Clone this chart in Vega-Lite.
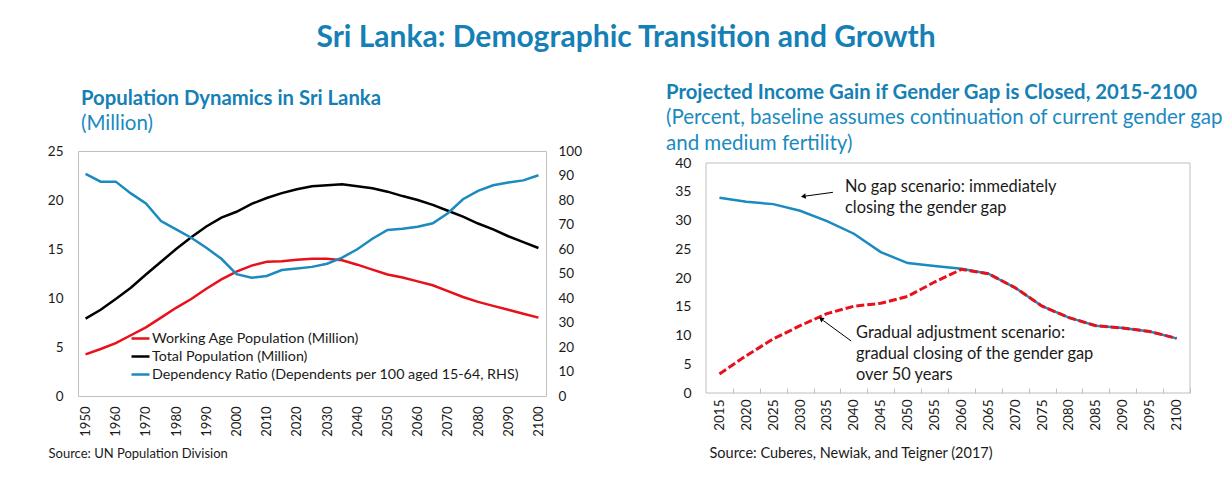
{
  "$schema": "https://vega.github.io/schema/vega-lite/v6.json",
  "padding": {"left": 46, "top": 23, "right": 2, "bottom": 2},
  "background": "white",
  "title": {
    "text": "Sri Lanka: Demographic Transition and Growth",
    "font": "Lato", "fontSize": 30, "fontWeight": "bold", "color": "#1580b5",
    "anchor": "middle", "offset": 30, "dx": -9
  },
  "spacing": 84,
  "datasets": {
    "pop": [
      {"year": 1950, "series": "Working Age Population (Million)", "value": 4.25},
      {"year": 1955, "series": "Working Age Population (Million)", "value": 4.8},
      {"year": 1960, "series": "Working Age Population (Million)", "value": 5.4},
      {"year": 1965, "series": "Working Age Population (Million)", "value": 6.2},
      {"year": 1970, "series": "Working Age Population (Million)", "value": 7.0},
      {"year": 1975, "series": "Working Age Population (Million)", "value": 8.0},
      {"year": 1980, "series": "Working Age Population (Million)", "value": 9.0},
      {"year": 1985, "series": "Working Age Population (Million)", "value": 9.9},
      {"year": 1990, "series": "Working Age Population (Million)", "value": 10.95},
      {"year": 1995, "series": "Working Age Population (Million)", "value": 11.9},
      {"year": 2000, "series": "Working Age Population (Million)", "value": 12.7},
      {"year": 2005, "series": "Working Age Population (Million)", "value": 13.3},
      {"year": 2010, "series": "Working Age Population (Million)", "value": 13.7},
      {"year": 2015, "series": "Working Age Population (Million)", "value": 13.75},
      {"year": 2020, "series": "Working Age Population (Million)", "value": 13.9},
      {"year": 2025, "series": "Working Age Population (Million)", "value": 14.0},
      {"year": 2030, "series": "Working Age Population (Million)", "value": 14.0},
      {"year": 2035, "series": "Working Age Population (Million)", "value": 13.85},
      {"year": 2040, "series": "Working Age Population (Million)", "value": 13.4},
      {"year": 2045, "series": "Working Age Population (Million)", "value": 12.9},
      {"year": 2050, "series": "Working Age Population (Million)", "value": 12.4},
      {"year": 2055, "series": "Working Age Population (Million)", "value": 12.1},
      {"year": 2060, "series": "Working Age Population (Million)", "value": 11.7},
      {"year": 2065, "series": "Working Age Population (Million)", "value": 11.3},
      {"year": 2070, "series": "Working Age Population (Million)", "value": 10.7},
      {"year": 2075, "series": "Working Age Population (Million)", "value": 10.1},
      {"year": 2080, "series": "Working Age Population (Million)", "value": 9.6},
      {"year": 2085, "series": "Working Age Population (Million)", "value": 9.2},
      {"year": 2090, "series": "Working Age Population (Million)", "value": 8.8},
      {"year": 2095, "series": "Working Age Population (Million)", "value": 8.4},
      {"year": 2100, "series": "Working Age Population (Million)", "value": 8.0},
      {"year": 1950, "series": "Total Population (Million)", "value": 7.9},
      {"year": 1955, "series": "Total Population (Million)", "value": 8.8},
      {"year": 1960, "series": "Total Population (Million)", "value": 9.9},
      {"year": 1965, "series": "Total Population (Million)", "value": 11.05},
      {"year": 1970, "series": "Total Population (Million)", "value": 12.4},
      {"year": 1975, "series": "Total Population (Million)", "value": 13.7},
      {"year": 1980, "series": "Total Population (Million)", "value": 15.0},
      {"year": 1985, "series": "Total Population (Million)", "value": 16.2},
      {"year": 1990, "series": "Total Population (Million)", "value": 17.3},
      {"year": 1995, "series": "Total Population (Million)", "value": 18.2},
      {"year": 2000, "series": "Total Population (Million)", "value": 18.8},
      {"year": 2005, "series": "Total Population (Million)", "value": 19.6},
      {"year": 2010, "series": "Total Population (Million)", "value": 20.2},
      {"year": 2015, "series": "Total Population (Million)", "value": 20.7},
      {"year": 2020, "series": "Total Population (Million)", "value": 21.1},
      {"year": 2025, "series": "Total Population (Million)", "value": 21.4},
      {"year": 2030, "series": "Total Population (Million)", "value": 21.5},
      {"year": 2035, "series": "Total Population (Million)", "value": 21.6},
      {"year": 2040, "series": "Total Population (Million)", "value": 21.4},
      {"year": 2045, "series": "Total Population (Million)", "value": 21.2},
      {"year": 2050, "series": "Total Population (Million)", "value": 20.85},
      {"year": 2055, "series": "Total Population (Million)", "value": 20.4},
      {"year": 2060, "series": "Total Population (Million)", "value": 20.0},
      {"year": 2065, "series": "Total Population (Million)", "value": 19.5},
      {"year": 2070, "series": "Total Population (Million)", "value": 18.9},
      {"year": 2075, "series": "Total Population (Million)", "value": 18.3},
      {"year": 2080, "series": "Total Population (Million)", "value": 17.6},
      {"year": 2085, "series": "Total Population (Million)", "value": 17.0},
      {"year": 2090, "series": "Total Population (Million)", "value": 16.3},
      {"year": 2095, "series": "Total Population (Million)", "value": 15.7},
      {"year": 2100, "series": "Total Population (Million)", "value": 15.1},
      {"year": 1950, "series": "Dependency Ratio (Dependents per 100 aged 15-64, RHS)", "value": 90.7},
      {"year": 1955, "series": "Dependency Ratio (Dependents per 100 aged 15-64, RHS)", "value": 87.5},
      {"year": 1960, "series": "Dependency Ratio (Dependents per 100 aged 15-64, RHS)", "value": 87.5},
      {"year": 1965, "series": "Dependency Ratio (Dependents per 100 aged 15-64, RHS)", "value": 82.7},
      {"year": 1970, "series": "Dependency Ratio (Dependents per 100 aged 15-64, RHS)", "value": 78.6},
      {"year": 1975, "series": "Dependency Ratio (Dependents per 100 aged 15-64, RHS)", "value": 71.4},
      {"year": 1980, "series": "Dependency Ratio (Dependents per 100 aged 15-64, RHS)", "value": 68.0},
      {"year": 1985, "series": "Dependency Ratio (Dependents per 100 aged 15-64, RHS)", "value": 64.6},
      {"year": 1990, "series": "Dependency Ratio (Dependents per 100 aged 15-64, RHS)", "value": 60.5},
      {"year": 1995, "series": "Dependency Ratio (Dependents per 100 aged 15-64, RHS)", "value": 56.0},
      {"year": 2000, "series": "Dependency Ratio (Dependents per 100 aged 15-64, RHS)", "value": 49.7},
      {"year": 2005, "series": "Dependency Ratio (Dependents per 100 aged 15-64, RHS)", "value": 48.3},
      {"year": 2010, "series": "Dependency Ratio (Dependents per 100 aged 15-64, RHS)", "value": 49.0},
      {"year": 2015, "series": "Dependency Ratio (Dependents per 100 aged 15-64, RHS)", "value": 51.4},
      {"year": 2020, "series": "Dependency Ratio (Dependents per 100 aged 15-64, RHS)", "value": 52.0},
      {"year": 2025, "series": "Dependency Ratio (Dependents per 100 aged 15-64, RHS)", "value": 52.7},
      {"year": 2030, "series": "Dependency Ratio (Dependents per 100 aged 15-64, RHS)", "value": 54.0},
      {"year": 2035, "series": "Dependency Ratio (Dependents per 100 aged 15-64, RHS)", "value": 56.5},
      {"year": 2040, "series": "Dependency Ratio (Dependents per 100 aged 15-64, RHS)", "value": 59.9},
      {"year": 2045, "series": "Dependency Ratio (Dependents per 100 aged 15-64, RHS)", "value": 64.2},
      {"year": 2050, "series": "Dependency Ratio (Dependents per 100 aged 15-64, RHS)", "value": 67.8},
      {"year": 2055, "series": "Dependency Ratio (Dependents per 100 aged 15-64, RHS)", "value": 68.3},
      {"year": 2060, "series": "Dependency Ratio (Dependents per 100 aged 15-64, RHS)", "value": 69.1},
      {"year": 2065, "series": "Dependency Ratio (Dependents per 100 aged 15-64, RHS)", "value": 70.5},
      {"year": 2070, "series": "Dependency Ratio (Dependents per 100 aged 15-64, RHS)", "value": 74.6},
      {"year": 2075, "series": "Dependency Ratio (Dependents per 100 aged 15-64, RHS)", "value": 80.3},
      {"year": 2080, "series": "Dependency Ratio (Dependents per 100 aged 15-64, RHS)", "value": 83.7},
      {"year": 2085, "series": "Dependency Ratio (Dependents per 100 aged 15-64, RHS)", "value": 86.0},
      {"year": 2090, "series": "Dependency Ratio (Dependents per 100 aged 15-64, RHS)", "value": 87.1},
      {"year": 2095, "series": "Dependency Ratio (Dependents per 100 aged 15-64, RHS)", "value": 88.0},
      {"year": 2100, "series": "Dependency Ratio (Dependents per 100 aged 15-64, RHS)", "value": 90.1}
    ],
    "gain": [
      {"year": 2015, "scenario": "No gap", "value": 33.95},
      {"year": 2020, "scenario": "No gap", "value": 33.25},
      {"year": 2025, "scenario": "No gap", "value": 32.85},
      {"year": 2030, "scenario": "No gap", "value": 31.7},
      {"year": 2035, "scenario": "No gap", "value": 29.9},
      {"year": 2040, "scenario": "No gap", "value": 27.7},
      {"year": 2045, "scenario": "No gap", "value": 24.5},
      {"year": 2050, "scenario": "No gap", "value": 22.6},
      {"year": 2055, "scenario": "No gap", "value": 22.1},
      {"year": 2060, "scenario": "No gap", "value": 21.6},
      {"year": 2065, "scenario": "No gap", "value": 20.75},
      {"year": 2070, "scenario": "No gap", "value": 18.3},
      {"year": 2075, "scenario": "No gap", "value": 15.1},
      {"year": 2080, "scenario": "No gap", "value": 13.1},
      {"year": 2085, "scenario": "No gap", "value": 11.7},
      {"year": 2090, "scenario": "No gap", "value": 11.3},
      {"year": 2095, "scenario": "No gap", "value": 10.7},
      {"year": 2100, "scenario": "No gap", "value": 9.5},
      {"year": 2015, "scenario": "Gradual", "value": 3.3},
      {"year": 2020, "scenario": "Gradual", "value": 6.5},
      {"year": 2025, "scenario": "Gradual", "value": 9.4},
      {"year": 2030, "scenario": "Gradual", "value": 11.7},
      {"year": 2035, "scenario": "Gradual", "value": 13.8},
      {"year": 2040, "scenario": "Gradual", "value": 15.1},
      {"year": 2045, "scenario": "Gradual", "value": 15.6},
      {"year": 2050, "scenario": "Gradual", "value": 16.8},
      {"year": 2055, "scenario": "Gradual", "value": 19.3},
      {"year": 2060, "scenario": "Gradual", "value": 21.5},
      {"year": 2065, "scenario": "Gradual", "value": 20.75},
      {"year": 2070, "scenario": "Gradual", "value": 18.3},
      {"year": 2075, "scenario": "Gradual", "value": 15.1},
      {"year": 2080, "scenario": "Gradual", "value": 13.1},
      {"year": 2085, "scenario": "Gradual", "value": 11.7},
      {"year": 2090, "scenario": "Gradual", "value": 11.3},
      {"year": 2095, "scenario": "Gradual", "value": 10.7},
      {"year": 2100, "scenario": "Gradual", "value": 9.5}
    ]
  },
  "hconcat": [
    {
      "width": 468,
      "height": 245,
      "title": {
        "text": "Population Dynamics in Sri Lanka",
        "subtitle": "(Million)",
        "anchor": "start", "frame": "group", "dx": 3, "offset": 10
      },
      "data": {"name": "pop"},
      "layer": [
        {
          "transform": [{"filter": "datum.series !== 'Dependency Ratio (Dependents per 100 aged 15-64, RHS)'"}],
          "mark": {"type": "line", "strokeWidth": 2.5},
          "encoding": {
            "x": {
              "field": "year", "type": "quantitative",
              "scale": {"domain": [1947.5, 2102.5], "nice": false, "zero": false},
              "axis": {
                "values": [1950, 1960, 1970, 1980, 1990, 2000, 2010, 2020, 2030, 2040, 2050, 2060, 2070, 2080, 2090, 2100],
                "tickCount": 100,
                "format": "d", "labelAngle": -90, "labelPadding": 10, "labelFontSize": 13,
                "title": "Source: UN Population Division", "titleFontSize": 13,
                "titleX": -30, "titleAlign": "left", "titleAnchor": "start", "titlePadding": 11
              }
            },
            "y": {
              "field": "value", "type": "quantitative",
              "scale": {"domain": [0, 25], "nice": false},
              "axis": {"values": [0, 5, 10, 15, 20, 25], "tickCount": 100, "format": "d", "title": null, "labelPadding": 15}
            },
            "color": {
              "field": "series", "type": "nominal",
              "scale": {
                "domain": ["Working Age Population (Million)", "Total Population (Million)", "Dependency Ratio (Dependents per 100 aged 15-64, RHS)"],
                "range": ["#e8101a", "#000000", "#1a8abf"]
              },
              "legend": {
                "orient": "none", "legendX": 52, "legendY": 177, "title": null,
                "symbolType": "stroke", "symbolSize": 324, "symbolStrokeWidth": 2.5,
                "labelFontSize": 14.3, "labelFont": "Lato", "labelColor": "#1a1a1a",
                "labelLimit": 500, "labelOffset": 1, "rowPadding": 0
              }
            }
          }
        },
        {
          "transform": [{"filter": "datum.series === 'Dependency Ratio (Dependents per 100 aged 15-64, RHS)'"}],
          "mark": {"type": "line", "strokeWidth": 2.5},
          "encoding": {
            "x": {"field": "year", "type": "quantitative"},
            "y": {
              "field": "value", "type": "quantitative",
              "scale": {"domain": [0, 100], "nice": false},
              "axis": {"orient": "right", "values": [0, 10, 20, 30, 40, 50, 60, 70, 80, 90, 100], "tickCount": 100, "format": "d", "title": null, "labelPadding": 12}
            },
            "color": {"field": "series", "type": "nominal"}
          }
        }
      ],
      "resolve": {"scale": {"y": "independent"}}
    },
    {
      "width": 484,
      "height": 242,
      "view": {"stroke": null},
      "title": {
        "text": "Projected Income Gain if Gender Gap is Closed, 2015-2100",
        "subtitle": ["(Percent, baseline assumes continuation of current gender gap", "and medium fertility)"],
        "anchor": "start", "frame": "group", "dx": -40, "offset": -3
      },
      "data": {"name": "gain"},
      "layer": [
        {
          "data": {"values": [{}]},
          "mark": {"type": "rect", "filled": false, "stroke": "#bfbfbf", "strokeWidth": 1},
          "encoding": {
            "x": {"datum": 2012.5}, "x2": {"datum": 2102.5},
            "y": {"datum": 0}, "y2": {"datum": 40}
          }
        },
        {
          "transform": [{"filter": "datum.scenario === 'No gap'"}],
          "mark": {"type": "line", "color": "#1a8abf", "strokeWidth": 2.5},
          "encoding": {
            "x": {
              "field": "year", "type": "quantitative",
              "scale": {"domain": [2012.5, 2102.5], "nice": false, "zero": false},
              "axis": {
                "values": [2017.5, 2022.5, 2027.5, 2032.5, 2037.5, 2042.5, 2047.5, 2052.5, 2057.5, 2062.5, 2067.5, 2072.5, 2077.5, 2082.5, 2087.5, 2092.5, 2097.5, 2102.5],
                "tickCount": 100,
                "labelExpr": "format(datum.value - 2.5, 'd')",
                "labelOffset": -13.45, "labelAngle": -90,
                "ticks": true, "tickSize": -5, "tickColor": "#bfbfbf", "labelPadding": 11,
                "title": "Source: Cuberes, Newiak, and Teigner (2017)", "titleFontSize": 14.5,
                "titleX": 3, "titleAlign": "left", "titleAnchor": "start", "titlePadding": 16
              }
            },
            "y": {
              "field": "value", "type": "quantitative",
              "scale": {"domain": [0, 42.087], "nice": false},
              "axis": {"values": [0, 5, 10, 15, 20, 25, 30, 35, 40], "tickCount": 100, "format": "d", "title": null, "labelPadding": 15, "labelFontSize": 14}
            }
          }
        },
        {
          "transform": [{"filter": "datum.scenario === 'Gradual'"}],
          "mark": {"type": "line", "color": "#e8101a", "strokeWidth": 3, "strokeDash": [8, 3]},
          "encoding": {
            "x": {"field": "year", "type": "quantitative"},
            "y": {"field": "value", "type": "quantitative"}
          }
        },
        {
          "data": {"values": [{}]},
          "mark": {"type": "rule", "color": "#000000", "strokeWidth": 1},
          "encoding": {
            "x": {"datum": 2036.1}, "y": {"datum": 34.9},
            "x2": {"datum": 2031.0}, "y2": {"datum": 34.25}
          }
        },
        {
          "data": {"values": [{}]},
          "mark": {"type": "point", "shape": "triangle-left", "filled": true, "color": "#000000", "size": 30, "angle": 350, "opacity": 1},
          "encoding": {"x": {"datum": 2030.6}, "y": {"datum": 34.2}}
        },
        {
          "data": {"values": [{}]},
          "mark": {"type": "rule", "color": "#000000", "strokeWidth": 1},
          "encoding": {
            "x": {"datum": 2039.5}, "y": {"datum": 9.04},
            "x2": {"datum": 2034.3}, "y2": {"datum": 12.6}
          }
        },
        {
          "data": {"values": [{}]},
          "mark": {"type": "point", "shape": "triangle-left", "filled": true, "color": "#000000", "size": 30, "angle": 37, "opacity": 1},
          "encoding": {"x": {"datum": 2033.9}, "y": {"datum": 12.9}}
        },
        {
          "data": {"values": [{}]},
          "mark": {"type": "text", "align": "left", "baseline": "alphabetic", "fontSize": 16.4, "font": "Lato", "lineHeight": 21.3, "color": "#1a1a1a"},
          "encoding": {
            "x": {"datum": 2038.35}, "y": {"datum": 35.0},
            "text": {"value": ["No gap scenario: immediately", "closing the gender gap"]}
          }
        },
        {
          "data": {"values": [{}]},
          "mark": {"type": "text", "align": "left", "baseline": "alphabetic", "fontSize": 16.4, "font": "Lato", "lineHeight": 21, "color": "#1a1a1a"},
          "encoding": {
            "x": {"datum": 2040.4}, "y": {"datum": 9.57},
            "text": {"value": ["Gradual adjustment scenario:", "gradual closing of the gender gap", "over 50 years"]}
          }
        }
      ]
    }
  ],
  "config": {
    "font": "Lato",
    "view": {"stroke": "#bfbfbf", "strokeWidth": 1},
    "axis": {
      "grid": false, "domain": false, "ticks": false, "labelOverlap": false,
      "labelFont": "Lato", "labelFontSize": 13.5, "labelColor": "#1a1a1a",
      "titleFont": "Lato", "titleFontSize": 12, "titleFontWeight": "normal", "titleColor": "#1a1a1a"
    },
    "title": {
      "font": "Lato", "fontSize": 20.3, "fontWeight": "bold", "color": "#1580b5",
      "subtitleFont": "Lato", "subtitleFontSize": 20.5, "subtitleColor": "#1a8abf",
      "subtitleLineHeight": 26, "subtitlePadding": 4
    }
  }
}
